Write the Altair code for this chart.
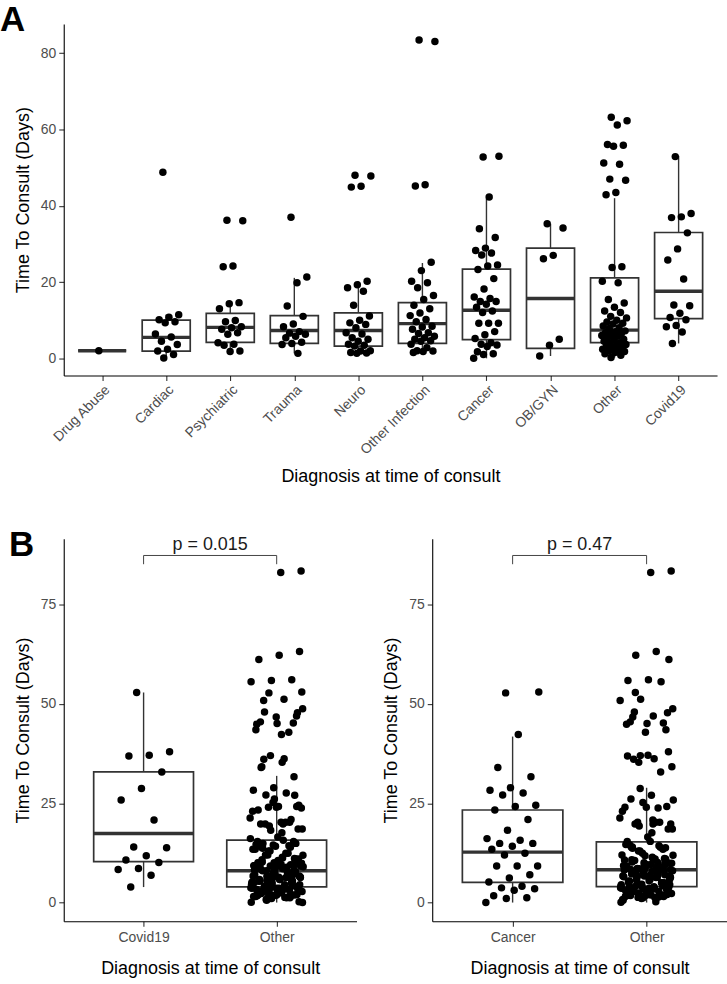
import altair as alt
import pandas as pd

FONT = "Liberation Sans"

# ---- Time to consult (days) by diagnosis -------------------------------
categories = ["Drug Abuse", "Cardiac", "Psychiatric", "Trauma", "Neuro",
              "Other Infection", "Cancer", "OB/GYN", "Other", "Covid19"]

drug_abuse = [2.0]
cardiac = [48.8, 11.4, 10.8, 10.1, 9.6, 9.3, 6.4, 5.6, 4.5, 3.6, 2.4, 1.9, 1.0, 0.1]
psychiatric = [36.2, 36.1, 24.2, 24.0, 14.6, 14.3, 13.0, 9.9, 9.6, 8.3, 8.0, 7.6, 6.7,
               6.3, 4.1, 3.7, 3.4, 1.9, 1.8]
trauma = [37.0, 21.3, 19.8, 13.7, 11.0, 9.0, 8.3, 7.0, 6.6, 6.3, 5.8, 5.4, 4.2, 3.9,
          3.6, 1.3]
neuro = [48.0, 47.8, 45.1, 44.9, 20.2, 19.3, 18.5, 17.6, 13.9, 11.1, 10.0, 9.3, 8.9,
         8.0, 6.7, 6.4, 5.4, 5.0, 4.5, 3.7, 3.4, 3.2, 2.0, 1.9, 1.5, 1.4, 1.3]
other_infection = [83.5, 83.1, 45.5, 45.2, 25.2, 23.0, 20.2, 19.8, 18.5, 16.5, 15.4,
                   13.9, 13.0, 11.9, 11.2, 10.2, 9.6, 8.4, 8.2, 7.6, 6.7, 6.5, 5.8,
                   5.4, 5.0, 4.6, 4.5, 3.7, 2.8, 2.0, 1.9, 1.8, 1.5]
cancer = [52.8, 53.0, 42.3, 34.0, 31.7, 28.9, 28.3, 27.6, 27.1, 24.5, 24.2, 23.3,
          20.9, 18.2, 16.1, 15.7, 14.9, 14.9, 14.2, 13.4, 12.4, 12.0, 9.2, 9.2, 9.2,
          7.0, 6.2, 5.2, 4.1, 3.7, 3.5, 3.1, 1.7, 1.2, 1.0, 0.0]
ob_gyn = [35.3, 34.2, 27.0, 26.1, 5.0, 3.4, 0.6]
other = [63.2, 62.3, 61.2, 56.1, 55.9, 55.6, 51.2, 50.9, 47.0, 46.7, 43.5, 42.9,
         24.0, 23.8, 20.2, 19.8, 15.4, 14.5, 13.4, 12.4, 12.0, 11.0, 10.6, 10.0,
         9.5, 9.2, 9.0, 8.5, 8.0, 7.8, 7.2, 7.0, 6.7, 6.5, 6.4, 6.0, 5.8, 5.5, 5.0,
         4.9, 4.5, 4.1, 4.0, 3.6, 3.3, 3.2, 3.0, 2.8, 2.4, 2.3, 1.9, 1.8, 1.5, 1.2,
         0.8, 0.2]
covid19 = [52.9, 38.0, 37.1, 36.9, 32.9, 28.7, 25.8, 20.8, 14.0, 13.8, 11.8, 10.7,
           10.1, 8.6, 8.3, 6.9, 3.9]

series = [drug_abuse, cardiac, psychiatric, trauma, neuro, other_infection,
          cancer, ob_gyn, other, covid19]

# box statistics per category: lower whisker, Q1, median, Q3, upper whisker
box_lo = [2.0, 0.0, 1.1, 1.3, 1.3, 1.5, 0.0, 0.6, 0.2, 3.9]
box_q1 = [2.0, 1.9, 4.2, 3.9, 3.2, 3.9, 4.9, 2.6, 4.1, 10.4]
box_med = [2.0, 5.5, 8.1, 7.3, 7.3, 9.1, 12.6, 15.7, 7.4, 17.6]
box_q3 = [2.0, 10.0, 11.8, 11.2, 11.9, 14.6, 23.4, 28.9, 21.1, 33.0]
box_hi = [2.0, 11.5, 14.6, 21.1, 20.2, 25.0, 41.8, 35.3, 42.0, 53.1]

# pairwise comparisons: group vs. everything else
cmp_left_groups = ["Covid19", "Other"]
cmp_left_box = dict(lo=[3.9, 0.0], q1=[10.3, 3.95], med=[17.4, 8.0],
                    q3=[32.9, 15.7], hi=[52.9, 31.9])
cmp_left_p = "p = 0.015"

cmp_right_groups = ["Cancer", "Other"]
cmp_right_box = dict(lo=[0.0, 0.0], q1=[5.1, 4.0], med=[12.7, 8.25],
                     q3=[23.3, 15.3], hi=[41.8, 28.9])
cmp_right_p = "p = 0.47"

BRACKET_Y = 87.4
BRACKET_TIP = 85.2

JITTER = 0.2
HALF_BOX = 0.375
INK = "#333333"


def jitter(i):
    # deterministic spread of points across the box width
    return (((i * 0.6180339887 + 0.37) % 1.0) * 2 - 1) * JITTER


def points_frame(groups):
    rows = []
    for gi, vals in enumerate(groups):
        for i, v in enumerate(vals):
            rows.append({"idx": gi, "px": gi + jitter(i), "v": v})
    return pd.DataFrame(rows)


def box_frame(names, lo, q1, med, q3, hi):
    return pd.DataFrame({"idx": list(range(len(names))), "name": names,
                         "lo": lo, "q1": q1, "med": med, "q3": q3, "hi": hi})


def label_expr(names):
    arr = ",".join("'" + n + "'" for n in names)
    return "[" + arr + "][datum.value]"


def panel(names, boxes, pts, ydom, yticks, xangle):
    n = len(names)
    xs = alt.Scale(domain=[-0.6, n - 0.4], nice=False, zero=False)
    ys = alt.Scale(domain=ydom, nice=False, zero=False)
    if xangle:
        xaxis = alt.Axis(values=list(range(n)), labelExpr=label_expr(names),
                         title="Diagnosis at time of consult", labelAngle=315,
                         labelAlign="right", labelBaseline="top", labelPadding=2,
                         titlePadding=11, grid=False, labelOverlap=False)
    else:
        xaxis = alt.Axis(values=list(range(n)), labelExpr=label_expr(names),
                         title="Diagnosis at time of consult", labelAngle=0,
                         labelPadding=4, titlePadding=15, grid=False,
                         labelOverlap=False)
    yaxis = alt.Axis(values=yticks, title="Time To Consult (Days)", grid=False,
                     labelPadding=3, titlePadding=8)

    base_b = alt.Chart(boxes).transform_calculate(
        xl=f"datum.idx - {HALF_BOX}", xr=f"datum.idx + {HALF_BOX}")

    whisk = base_b.mark_rule(color=INK, strokeWidth=1.4).encode(
        x=alt.X("idx:Q", scale=xs, axis=xaxis),
        y=alt.Y("lo:Q", scale=ys, axis=yaxis),
        y2="hi:Q")
    box = base_b.mark_bar(fill="white", stroke=INK, strokeWidth=1.7).encode(
        x=alt.X("xl:Q", scale=xs), x2="xr:Q",
        y=alt.Y("q1:Q", scale=ys), y2="q3:Q")
    median = base_b.mark_rule(color=INK, strokeWidth=3.4).encode(
        x=alt.X("xl:Q", scale=xs), x2="xr:Q",
        y=alt.Y("med:Q", scale=ys))
    dots = alt.Chart(pts).mark_circle(size=56, color="black", opacity=1).encode(
        x=alt.X("px:Q", scale=xs), y=alt.Y("v:Q", scale=ys))
    return [whisk, box, median, dots], xs, ys


def bracket(p_text, xs, ys):
    br = pd.DataFrame({"x0": [0], "x1": [1], "y": [BRACKET_Y], "tip": [BRACKET_TIP],
                       "xm": [0.5], "label": [p_text]})
    c = alt.Chart(br)
    top = c.mark_rule(color="#444444", strokeWidth=1).encode(
        x=alt.X("x0:Q", scale=xs), x2="x1:Q", y=alt.Y("y:Q", scale=ys))
    left = c.mark_rule(color="#444444", strokeWidth=1).encode(
        x=alt.X("x0:Q", scale=xs), y=alt.Y("tip:Q", scale=ys), y2="y:Q")
    right = c.mark_rule(color="#444444", strokeWidth=1).encode(
        x=alt.X("x1:Q", scale=xs), y=alt.Y("tip:Q", scale=ys), y2="y:Q")
    txt = c.mark_text(fontSize=18, font=FONT, color="#1a1a1a", baseline="bottom",
                      dy=-1).encode(
        x=alt.X("xm:Q", scale=xs), y=alt.Y("y:Q", scale=ys), text="label:N")
    return [top, left, right, txt]


def tag(letter, dx, dy):
    return alt.Chart(pd.DataFrame({"t": [letter]})).mark_text(
        fontSize=35, font=FONT, fontWeight="bold", align="left",
        baseline="alphabetic", color="black").encode(
        x=alt.value(dx), y=alt.value(dy), text="t:N")


# ---- panel A: all diagnoses ---------------------------------------------
box_a = box_frame(categories, box_lo, box_q1, box_med, box_q3, box_hi)
pts_a = points_frame(series)
layers_a, _, _ = panel(categories, box_a, pts_a, [-4.5, 87.7], [0, 20, 40, 60, 80],
                       True)
chart_a = alt.layer(*layers_a, tag("A", -64, 7)).properties(width=656, height=353)

# ---- panel B: Covid19 vs other, Cancer vs other ---------------------------
non_covid = [v for s in series[:-1] for v in s]
non_cancer = [v for k, s in enumerate(series) if k != 6 for v in s]

box_bl = box_frame(cmp_left_groups, **cmp_left_box)
pts_bl = points_frame([covid19, non_covid])
layers_bl, xs_bl, ys_bl = panel(cmp_left_groups, box_bl, pts_bl, [-4.7, 91.6],
                                [0, 25, 50, 75], False)
chart_bl = alt.layer(*layers_bl, *bracket(cmp_left_p, xs_bl, ys_bl),
                     tag("B", -55, 17)).properties(width=294, height=384)

box_br = box_frame(cmp_right_groups, **cmp_right_box)
pts_br = points_frame([cancer, non_cancer])
layers_br, xs_br, ys_br = panel(cmp_right_groups, box_br, pts_br, [-4.7, 91.6],
                                [0, 25, 50, 75], False)
chart_br = alt.layer(*layers_br, *bracket(cmp_right_p, xs_br, ys_br)).properties(
    width=296, height=384)

chart = alt.vconcat(
    chart_a,
    alt.hconcat(chart_bl, chart_br, spacing=26),
    spacing=42,
).properties(
    padding={"left": 0, "top": 1, "right": 0, "bottom": 0},
    background="white",
).configure_view(
    stroke=None
).configure_axis(
    domainColor="black", domainWidth=1.1, tickColor=INK, tickSize=5, tickWidth=1.1,
    labelColor="#4d4d4d", labelFont=FONT, labelFontSize=14,
    titleColor="black", titleFont=FONT, titleFontSize=18, titleFontWeight="normal",
)

chart.save("out.html", embed_options={"renderer": "svg", "actions": False})
